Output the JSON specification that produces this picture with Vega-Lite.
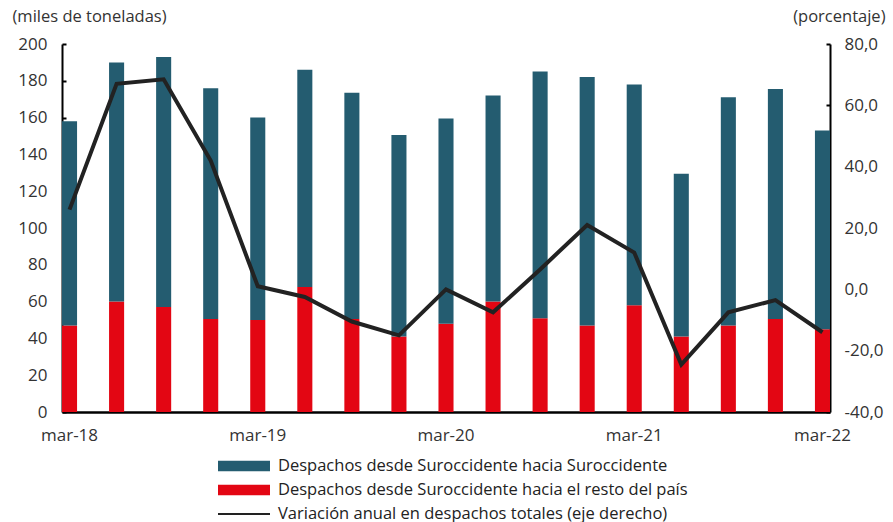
{
  "$schema": "https://vega.github.io/schema/vega-lite/v6.json",
  "autosize": "none",
  "width": 768,
  "height": 368,
  "padding": {"left": 62, "top": 44, "right": 63, "bottom": 110},
  "background": "white",
  "config": {
    "view": {"stroke": null},
    "font": "Open Sans",
    "axis": {"labelFont": "Open Sans", "titleFont": "Open Sans", "labelColor": "#333333", "titleColor": "#333333", "labelFontSize": 17, "titleFontSize": 16.5, "titleFontWeight": "normal", "grid": false, "domainColor": "#000000", "domainWidth": 2, "tickColor": "#000000", "tickWidth": 2},
    "legend": {"labelFont": "Open Sans", "labelFontSize": 16.5, "labelColor": "#222222"}
  },
  "datasets": {
    "barras": [
      {"fecha": "mar-18", "serie": "Despachos desde Suroccidente hacia el resto del país", "valor": 47},
      {"fecha": "mar-18", "serie": "Despachos desde Suroccidente hacia Suroccidente", "valor": 111},
      {"fecha": "jun-18", "serie": "Despachos desde Suroccidente hacia el resto del país", "valor": 60},
      {"fecha": "jun-18", "serie": "Despachos desde Suroccidente hacia Suroccidente", "valor": 130},
      {"fecha": "sep-18", "serie": "Despachos desde Suroccidente hacia el resto del país", "valor": 57},
      {"fecha": "sep-18", "serie": "Despachos desde Suroccidente hacia Suroccidente", "valor": 136},
      {"fecha": "dic-18", "serie": "Despachos desde Suroccidente hacia el resto del país", "valor": 50.5},
      {"fecha": "dic-18", "serie": "Despachos desde Suroccidente hacia Suroccidente", "valor": 125.5},
      {"fecha": "mar-19", "serie": "Despachos desde Suroccidente hacia el resto del país", "valor": 50},
      {"fecha": "mar-19", "serie": "Despachos desde Suroccidente hacia Suroccidente", "valor": 110},
      {"fecha": "jun-19", "serie": "Despachos desde Suroccidente hacia el resto del país", "valor": 68},
      {"fecha": "jun-19", "serie": "Despachos desde Suroccidente hacia Suroccidente", "valor": 118},
      {"fecha": "sep-19", "serie": "Despachos desde Suroccidente hacia el resto del país", "valor": 50.5},
      {"fecha": "sep-19", "serie": "Despachos desde Suroccidente hacia Suroccidente", "valor": 123},
      {"fecha": "dic-19", "serie": "Despachos desde Suroccidente hacia el resto del país", "valor": 41},
      {"fecha": "dic-19", "serie": "Despachos desde Suroccidente hacia Suroccidente", "valor": 109.5},
      {"fecha": "mar-20", "serie": "Despachos desde Suroccidente hacia el resto del país", "valor": 48},
      {"fecha": "mar-20", "serie": "Despachos desde Suroccidente hacia Suroccidente", "valor": 111.5},
      {"fecha": "jun-20", "serie": "Despachos desde Suroccidente hacia el resto del país", "valor": 60},
      {"fecha": "jun-20", "serie": "Despachos desde Suroccidente hacia Suroccidente", "valor": 112},
      {"fecha": "sep-20", "serie": "Despachos desde Suroccidente hacia el resto del país", "valor": 51},
      {"fecha": "sep-20", "serie": "Despachos desde Suroccidente hacia Suroccidente", "valor": 134},
      {"fecha": "dic-20", "serie": "Despachos desde Suroccidente hacia el resto del país", "valor": 47},
      {"fecha": "dic-20", "serie": "Despachos desde Suroccidente hacia Suroccidente", "valor": 135},
      {"fecha": "mar-21", "serie": "Despachos desde Suroccidente hacia el resto del país", "valor": 58},
      {"fecha": "mar-21", "serie": "Despachos desde Suroccidente hacia Suroccidente", "valor": 120},
      {"fecha": "jun-21", "serie": "Despachos desde Suroccidente hacia el resto del país", "valor": 41},
      {"fecha": "jun-21", "serie": "Despachos desde Suroccidente hacia Suroccidente", "valor": 88.5},
      {"fecha": "sep-21", "serie": "Despachos desde Suroccidente hacia el resto del país", "valor": 47},
      {"fecha": "sep-21", "serie": "Despachos desde Suroccidente hacia Suroccidente", "valor": 124},
      {"fecha": "dic-21", "serie": "Despachos desde Suroccidente hacia el resto del país", "valor": 50.5},
      {"fecha": "dic-21", "serie": "Despachos desde Suroccidente hacia Suroccidente", "valor": 125},
      {"fecha": "mar-22", "serie": "Despachos desde Suroccidente hacia el resto del país", "valor": 45},
      {"fecha": "mar-22", "serie": "Despachos desde Suroccidente hacia Suroccidente", "valor": 108}
    ],
    "variacion": [
      {"fecha": "mar-18", "variacion": 26},
      {"fecha": "jun-18", "variacion": 67},
      {"fecha": "sep-18", "variacion": 68.5},
      {"fecha": "dic-18", "variacion": 42},
      {"fecha": "mar-19", "variacion": 1},
      {"fecha": "jun-19", "variacion": -2.5},
      {"fecha": "sep-19", "variacion": -10.5},
      {"fecha": "dic-19", "variacion": -15},
      {"fecha": "mar-20", "variacion": 0},
      {"fecha": "jun-20", "variacion": -7.5},
      {"fecha": "sep-20", "variacion": 6.5},
      {"fecha": "dic-20", "variacion": 21},
      {"fecha": "mar-21", "variacion": 12},
      {"fecha": "jun-21", "variacion": -24.5},
      {"fecha": "sep-21", "variacion": -7.5},
      {"fecha": "dic-21", "variacion": -3.5},
      {"fecha": "mar-22", "variacion": -14}
    ]
  },
  "encoding": {
    "x": {
      "field": "fecha",
      "type": "ordinal",
      "sort": null,
      "scale": {
        "domain": ["mar-18","jun-18","sep-18","dic-18","mar-19","jun-19","sep-19","dic-19","mar-20","jun-20","sep-20","dic-20","mar-21","jun-21","sep-21","dic-21","mar-22"],
        "paddingInner": 0.68,
        "paddingOuter": 0
      },
      "axis": {
        "title": null,
        "values": ["mar-18","mar-19","mar-20","mar-21","mar-22"],
        "labelAngle": 0,
        "labelPadding": 20,
        "tickSize": -5,
        "domainWidth": 2.5
      }
    }
  },
  "layer": [
    {
      "data": {"name": "barras"},
      "mark": {"type": "bar"},
      "encoding": {
        "y": {
          "field": "valor",
          "type": "quantitative",
          "stack": "zero",
          "scale": {"domain": [0, 200], "nice": false},
          "axis": {
            "title": "(miles de toneladas)",
            "titleAngle": 0,
            "titleAlign": "left",
            "titleBaseline": "middle",
            "titleX": -50,
            "titleY": -28,
            "values": [0,20,40,60,80,100,120,140,160,180,200],
            "tickSize": -4,
            "labelPadding": 19
          }
        },
        "color": {
          "field": "serie",
          "type": "nominal",
          "scale": {
            "domain": ["Despachos desde Suroccidente hacia Suroccidente", "Despachos desde Suroccidente hacia el resto del país", "Variación anual en despachos totales (eje derecho)"],
            "range": ["#245C70", "#E30613", "#222222"]
          },
          "legend": {
            "title": null,
            "orient": "none",
            "legendX": 156,
            "legendY": 414,
            "direction": "vertical",
            "symbolType": "M-1,-0.2H1V0.2H-1Z",
            "symbolSize": 2704,
            "clipHeight": 16,
            "labelOffset": 8,
            "rowPadding": 7,
            "labelLimit": 600,
            "encode": {
              "symbols": {
                "update": {
                  "shape": {"signal": "datum.label === 'Variación anual en despachos totales (eje derecho)' ? 'M-1,-0.04H1V0.04H-1Z' : 'M-1,-0.2H1V0.2H-1Z'"},
                  "fill": {"signal": "scale('color', datum.value)"},
                  "strokeWidth": {"value": 0},
                  "opacity": {"value": 1}
                }
              }
            }
          }
        },
        "order": {"field": "serie", "sort": "descending"}
      }
    },
    {
      "data": {"name": "variacion"},
      "mark": {"type": "line", "strokeWidth": 4, "color": "#222222"},
      "encoding": {
        "y": {
          "field": "variacion",
          "type": "quantitative",
          "scale": {"domain": [-40, 80], "nice": false},
          "axis": {
            "orient": "right",
            "title": "(porcentaje)",
            "titleAngle": 0,
            "titleAlign": "right",
            "titleBaseline": "middle",
            "titleX": 55,
            "titleY": -28,
            "values": [-40,-20,0,20,40,60,80],
            "tickSize": -4,
            "labelPadding": 18,
            "labelExpr": "replace(replace(format(datum.value, '.1f'), '.', ','), '\u2212', '-')"
          }
        },
        "color": {"datum": "Variación anual en despachos totales (eje derecho)"}
      }
    }
  ],
  "resolve": {"scale": {"y": "independent"}}
}
